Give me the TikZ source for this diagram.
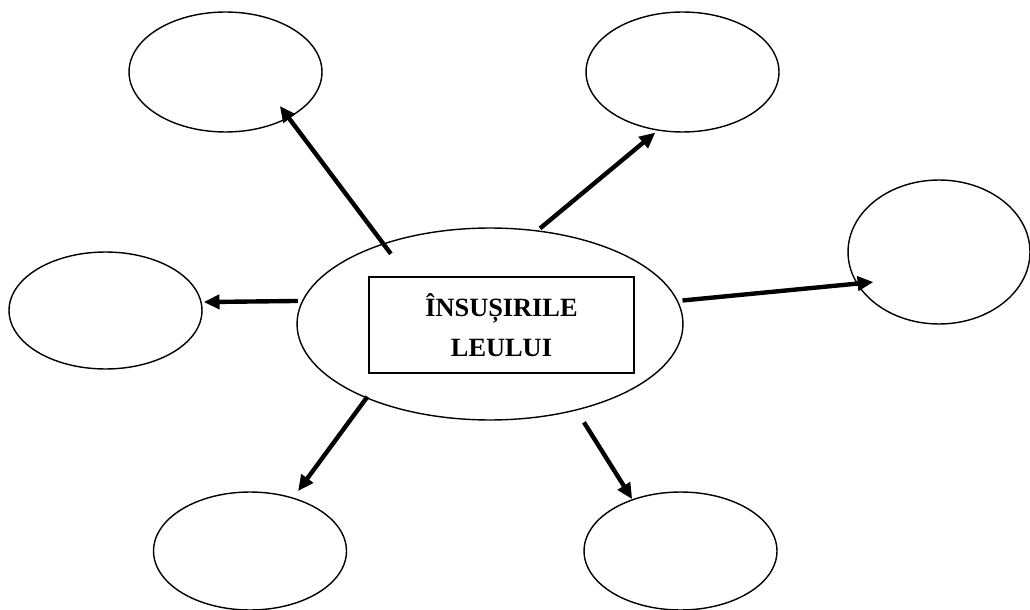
\documentclass[tikz,border=0pt]{standalone}
\usepackage{fontspec}
\setmainfont{Liberation Serif}
\usetikzlibrary{shapes.geometric,arrows.meta}

\begin{document}
\begin{tikzpicture}[x=0.02cm, y=0.02cm,
		bula/.style={ellipse, draw, line width=0.8pt, minimum width=3.86cm, minimum height=2.36cm},
		sageata/.style={-{Triangle[length=9pt,width=8pt]}, line width=2.5pt}]
				\useasboundingbox (0,0) rectangle (1030,609);
				\node[ellipse, draw, line width=0.8pt, minimum width=7.72cm, minimum height=3.84cm] (centru) at (490,285) {};
				\node[rectangle, draw, line width=0.8pt, minimum width=5.3cm, minimum height=1.92cm, align=center,
					font=\fontsize{15}{22.8}\selectfont\bfseries] (caseta) at (501.5,284) {ÎNSUȘIRILE\\LEULUI};
				\node[bula, minimum height=2.4cm] (ssus) at (225.5,537) {};
				\node[bula, minimum height=2.4cm] (dsus) at (682.5,537) {};
				\node[bula, minimum width=3.64cm, minimum height=2.88cm] (dreapta) at (939,357) {};
				\node[bula, minimum height=2.34cm] (stanga) at (105.5,298.5) {};
				\node[bula] (sjos) at (250,58) {};
				\node[bula] (djos) at (680.5,58) {};
				
				\draw[sageata, shorten <=-0.26cm, shorten >=-0.3cm] (centru.143) -- (ssus.-36);
				\draw[sageata, shorten <=0.06cm, shorten >=0.06cm] (centru.63) -- (dsus.-113);
				\draw[sageata, shorten <=0.09cm, shorten >=-0.34cm] (centru.7) -- (dreapta.201);
				\draw[sageata, shorten <=0.08cm, shorten >=0.04cm] (centru.173) -- (stanga.5);
				\draw[sageata, shorten <=-0.04cm, shorten >=0.16cm] (centru.211) -- (sjos.51);
				\draw[sageata, shorten <=0.28cm] (centru.-45) -- (djos.133);
			\end{tikzpicture}
\end{document}
